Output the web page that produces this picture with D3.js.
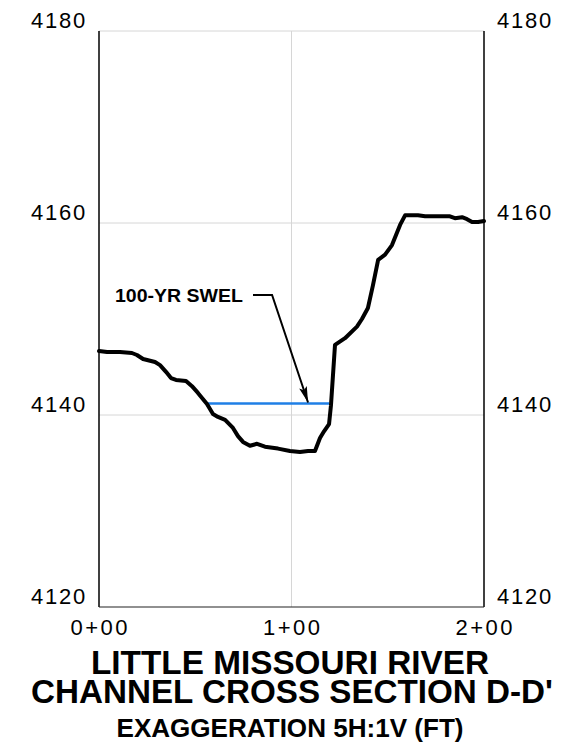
<!DOCTYPE html>
<html>
<head>
<meta charset="utf-8">
<script src="https://cdn.jsdelivr.net/npm/d3@7"></script>
<style>
  html, body { margin: 0; padding: 0; background: #fff; }
  svg { display: block; }
  text { font-family: "Liberation Sans", Arial, Helvetica, sans-serif; fill: #000; }
</style>
</head>
<body>
<svg id="chart" width="569" height="748"></svg>
<script>
// ---- data ----
const stations = [0, 4.2, 10.9, 17.1, 19.7, 22.9, 29.1, 31.7, 34.8, 37.4, 40, 45.2, 48.3, 51.4, 56.1, 59.2, 61.8, 65.5, 69.6, 72.2, 74.8, 78.4, 82.1, 86.2, 93, 99.2, 104.4, 108.6, 112.2, 114.8, 116.9, 119.5, 120.5, 122.6, 127.8, 134, 136.6, 139.7, 142.3, 145, 148.6, 152.2, 154.3, 156.4, 159, 165.7, 169.4, 182.3, 184.9, 188.6, 191.2, 193.8, 196.9, 200];
const elevations = [4146.67, 4146.56, 4146.56, 4146.46, 4146.25, 4145.83, 4145.52, 4145.2, 4144.5, 4143.85, 4143.65, 4143.54, 4143.0, 4142.3, 4141.15, 4140.1, 4139.8, 4139.5, 4138.65, 4137.8, 4137.2, 4136.8, 4137.0, 4136.7, 4136.5, 4136.25, 4136.15, 4136.25, 4136.25, 4137.6, 4138.3, 4139.05, 4141.0, 4147.3, 4148.0, 4149.2, 4150.0, 4151.15, 4153.5, 4156.15, 4156.7, 4157.7, 4158.75, 4159.8, 4160.8, 4160.8, 4160.7, 4160.7, 4160.5, 4160.6, 4160.4, 4160.1, 4160.1, 4160.2];
const swelStations = [56.1, 119.5];
const swelElevation = 4141.2;
const xTicks = [0, 100, 200];
const xTickLabels = ["0+00", "1+00", "2+00"];
const yTicks = [4120, 4140, 4160, 4180];
const annotationLabel = "100-YR SWEL";
const annotationText = [74.8, 4151.8];          // station, elevation of label end/baseline
const leaderStations = [80, 89.9, 108.6];
const leaderElevations = [4152.5, 4152.5, 4141.3];
const titleLines = ["LITTLE MISSOURI RIVER", "CHANNEL CROSS SECTION D-D'"];
const subtitle = "EXAGGERATION 5H:1V (FT)";

// ---- layout ----
const svg = d3.select("#chart");
const pLeft = 99, pRight = 484, pTop = 31, pBottom = 607;
const x = d3.scaleLinear().domain([0, 200]).range([pLeft, pRight]);
const y = d3.scaleLinear().domain([4120, 4180]).range([pBottom, pTop]);

// gridlines
svg.append("g").selectAll("line").data(yTicks.filter(d => d !== 4120)).join("line")
  .attr("x1", pLeft).attr("x2", pRight)
  .attr("y1", d => y(d)).attr("y2", d => y(d))
  .attr("stroke", "#d6d6d6").attr("stroke-width", 1);
svg.append("g").selectAll("line").data(xTicks.filter(d => d !== 0 && d !== 200)).join("line")
  .attr("x1", d => x(d)).attr("x2", d => x(d))
  .attr("y1", pTop).attr("y2", pBottom)
  .attr("stroke", "#d6d6d6").attr("stroke-width", 1);

// frame: left, right, bottom in black
svg.append("line").attr("x1", pLeft).attr("x2", pLeft).attr("y1", pTop).attr("y2", pBottom)
  .attr("stroke", "#000").attr("stroke-width", 1.5);
svg.append("line").attr("x1", pRight).attr("x2", pRight).attr("y1", pTop).attr("y2", pBottom)
  .attr("stroke", "#000").attr("stroke-width", 1.5);
svg.append("line").attr("x1", pLeft).attr("x2", pRight).attr("y1", pBottom).attr("y2", pBottom)
  .attr("stroke", "#222").attr("stroke-width", 1.2);

// y labels left and right
const yl = svg.append("g");
yl.selectAll("text.l").data(yTicks).join("text").attr("class", "l")
  .attr("x", 31).attr("y", d => y(d) - 3)
  .attr("text-anchor", "start")
  .attr("font-size", 22).attr("letter-spacing", 1.8)
  .text(d => d);
yl.selectAll("text.r").data(yTicks).join("text").attr("class", "r")
  .attr("x", 497).attr("y", d => y(d) - 3)
  .attr("text-anchor", "start")
  .attr("font-size", 22).attr("letter-spacing", 1.8)
  .text(d => d);

// x labels
svg.append("g").selectAll("text").data(xTicks).join("text")
  .attr("x", d => x(d)).attr("y", 635)
  .attr("text-anchor", "middle")
  .attr("font-size", 22)
  .attr("textLength", 57).attr("lengthAdjust", "spacing")
  .text((d, i) => xTickLabels[i]);

// SWEL line
svg.append("line")
  .attr("x1", x(swelStations[0])).attr("x2", x(swelStations[1]))
  .attr("y1", y(swelElevation)).attr("y2", y(swelElevation))
  .attr("stroke", "#1f7fe6").attr("stroke-width", 2.5);

// ground profile
const pts = stations.map((s, i) => [s, elevations[i]]);
svg.append("path")
  .datum(pts)
  .attr("fill", "none").attr("stroke", "#000").attr("stroke-width", 4)
  .attr("stroke-linejoin", "round").attr("stroke-linecap", "round")
  .attr("d", d3.line().x(d => x(d[0])).y(d => y(d[1])));

// annotation leader with arrowhead
const defs = svg.append("defs");
defs.append("marker").attr("id", "arr")
  .attr("viewBox", "0 0 16 8").attr("refX", 16).attr("refY", 4)
  .attr("markerWidth", 16).attr("markerHeight", 8)
  .attr("markerUnits", "userSpaceOnUse").attr("orient", "auto")
  .append("path").attr("d", "M0,0 L16,4 L0,8 L3,4 Z").attr("fill", "#000");
const lp = leaderStations.map((s, i) => [x(s), y(leaderElevations[i])]);
svg.append("path")
  .attr("d", d3.line()(lp))
  .attr("fill", "none").attr("stroke", "#000").attr("stroke-width", 2)
  .attr("marker-end", "url(#arr)");
svg.append("text")
  .attr("x", x(annotationText[0])).attr("y", y(annotationText[1]))
  .attr("text-anchor", "end")
  .attr("font-size", 18.5).attr("font-weight", "bold")
  .attr("textLength", 128).attr("lengthAdjust", "spacingAndGlyphs")
  .text(annotationLabel);

// titles
svg.append("text").attr("x", 290).attr("y", 674).attr("text-anchor", "middle")
  .attr("font-size", 33).attr("font-weight", "bold")
  .attr("textLength", 398).attr("lengthAdjust", "spacingAndGlyphs")
  .text(titleLines[0]);
svg.append("text").attr("x", 292).attr("y", 703).attr("text-anchor", "middle")
  .attr("font-size", 33).attr("font-weight", "bold")
  .attr("textLength", 522).attr("lengthAdjust", "spacingAndGlyphs")
  .text(titleLines[1]);
svg.append("text").attr("x", 290).attr("y", 737).attr("text-anchor", "middle")
  .attr("font-size", 26).attr("font-weight", "bold")
  .attr("textLength", 347).attr("lengthAdjust", "spacingAndGlyphs")
  .text(subtitle);
</script>
</body>
</html>
